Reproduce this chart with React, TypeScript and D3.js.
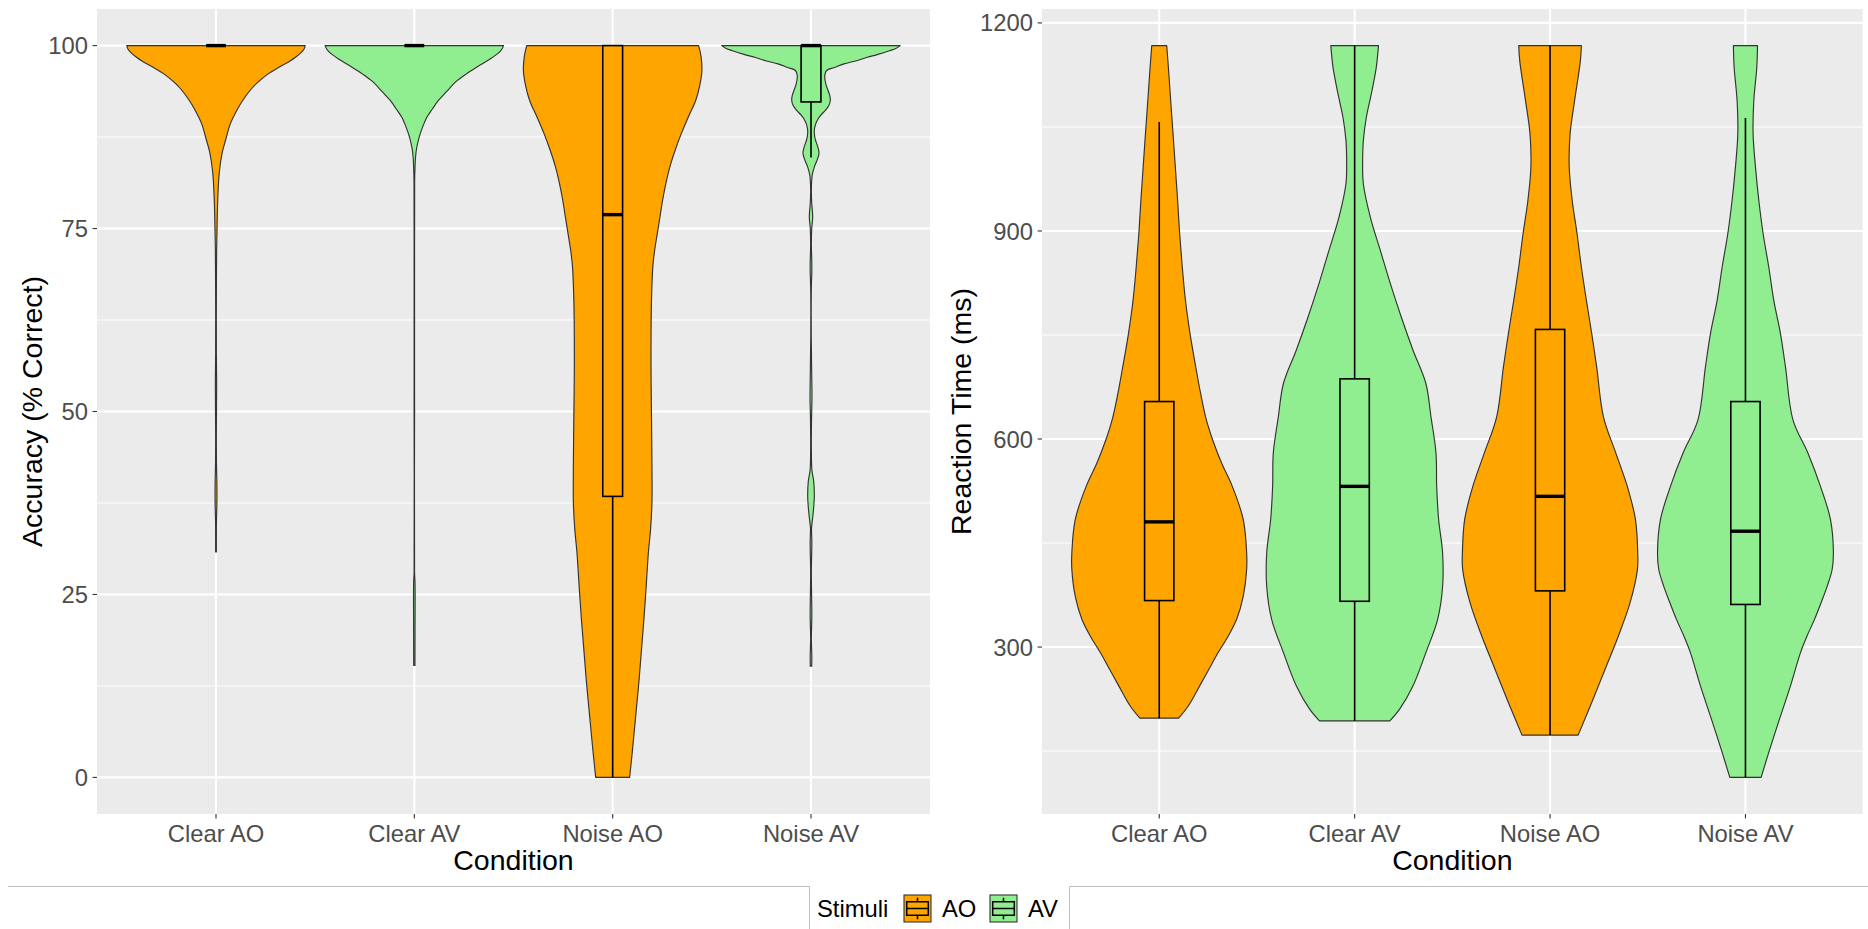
import * as d3 from 'd3';

const conditions = ['Clear AO', 'Clear AV', 'Noise AO', 'Noise AV'];
const stimuli = ['AO', 'AV', 'AO', 'AV'];
const stimulusLevels = ['AO', 'AV'];
const stimulusFills = ['#FFA500', '#90EE90'];

// violin outlines: [value, half width relative to the widest point]
const accClearAO = [
  [100, 1.0], [99.5, 0.985], [99.0, 0.95], [98.4, 0.89], [97.9, 0.83], [97.0, 0.7], [96.1, 0.58],
  [95.0, 0.47], [94.0, 0.39], [92.7, 0.31], [91.3, 0.24], [89.3, 0.16], [87.2, 0.11], [85.4, 0.07],
  [82.7, 0.037], [79.1, 0.02], [74.6, 0.011], [72, 0.007], [65, 0.004], [58, 0.004], [54, 0.007],
  [51, 0.006], [47, 0.004], [43, 0.005], [40, 0.01], [37.5, 0.01], [35, 0.005], [32, 0.004], [30.8, 0.004],
];
const accClearAV = [
  [100, 1.0], [99.5, 0.98], [99.0, 0.944], [98.1, 0.84], [97.2, 0.72], [96.1, 0.58], [95.0, 0.46],
  [93.7, 0.36], [92.5, 0.27], [91.3, 0.2], [90.2, 0.14], [89.1, 0.1], [88.0, 0.067], [86.8, 0.04],
  [85.7, 0.022], [84.5, 0.012], [83.4, 0.008], [81.6, 0.004], [70, 0.003], [50, 0.003], [28, 0.003],
  [26.5, 0.008], [20, 0.008], [15.3, 0.007],
];
const accNoiseAO = [
  [100, 0.963], [98.5, 0.99], [96.6, 1.0], [94.5, 0.975], [92.5, 0.93], [90.3, 0.85], [88.0, 0.77],
  [85.7, 0.7], [83.4, 0.64], [81.1, 0.595], [78.9, 0.56], [76.6, 0.53], [74.3, 0.5], [72, 0.47],
  [69.8, 0.45], [65.2, 0.435], [60.7, 0.43], [55, 0.43], [49.3, 0.435], [43, 0.44], [37.5, 0.44],
  [34, 0.425], [30.7, 0.4], [26, 0.375], [21.6, 0.35], [17, 0.32], [12.5, 0.29], [8, 0.255],
  [3.5, 0.22], [0, 0.19],
];
const accNoiseAV = [
  [100, 1.0], [99.6, 0.95], [99.3, 0.88], [98.8, 0.75], [98.4, 0.63], [97.9, 0.5], [97.5, 0.37],
  [97.0, 0.26], [96.6, 0.175], [96.0, 0.155], [95.3, 0.157], [94.6, 0.17], [93.9, 0.19], [93.2, 0.21],
  [92.5, 0.216], [91.8, 0.2], [91.1, 0.157], [90.5, 0.11], [90.0, 0.08], [89.2, 0.05], [88.4, 0.037],
  [87.7, 0.04], [87.1, 0.05], [86.2, 0.075], [85.3, 0.09], [84.4, 0.07], [83.4, 0.037], [82.4, 0.015],
  [81.4, 0.007], [80, 0.004], [78.5, 0.008], [76.6, 0.019], [75, 0.008], [73, 0.004], [70.3, 0.009],
  [69, 0.009], [67, 0.004], [60, 0.003], [55, 0.008], [52, 0.011], [49, 0.006], [45, 0.004],
  [42, 0.01], [40.5, 0.03], [38.4, 0.037], [36.2, 0.025], [34, 0.006], [32.5, 0.009], [31.5, 0.009],
  [28, 0.004], [23, 0.009], [21.7, 0.009], [19, 0.004], [16.5, 0.009], [15.2, 0.008],
];

const rtClearAO = [
  [1167.3, 0.085], [1136, 0.104], [1088, 0.13], [1040, 0.157], [992, 0.183], [944, 0.209],
  [896, 0.232], [848, 0.262], [800, 0.298], [752, 0.35], [704, 0.415], [666, 0.47], [628, 0.535],
  [596, 0.615], [565, 0.71], [532, 0.83], [484, 0.955], [436, 0.994], [412, 0.994], [373, 0.955],
  [340, 0.88], [316, 0.785], [292, 0.67], [268, 0.565], [244, 0.46], [215, 0.33], [197.4, 0.22],
];
const rtClearAV = [
  [1167.3, 0.271], [1136, 0.246], [1098, 0.19], [1064, 0.133], [1030.6, 0.099], [1001.8, 0.091],
  [968, 0.099], [920, 0.178], [872, 0.292], [824, 0.406], [776, 0.53], [728, 0.664], [680, 0.81],
  [632, 0.868], [580, 0.925], [531, 0.933], [484, 0.955], [436, 1.0], [387, 1.0], [340, 0.944],
  [292, 0.81], [243, 0.66], [210, 0.51], [193.5, 0.4],
];
const rtNoiseAO = [
  [1167.3, 0.356], [1145.6, 0.345], [1088, 0.279], [1040, 0.228], [992, 0.218], [944, 0.252],
  [896, 0.307], [848, 0.356], [800, 0.413], [752, 0.474], [704, 0.53], [632, 0.607], [580, 0.747],
  [531, 0.88], [484, 0.971], [436, 0.997], [412, 0.994], [364, 0.91], [316, 0.777], [268, 0.626],
  [220, 0.474], [173, 0.319],
];
const rtNoiseAV = [
  [1167.3, 0.137], [1136, 0.129], [1088, 0.095], [1040, 0.087], [992, 0.114], [944, 0.152],
  [896, 0.201], [848, 0.265], [800, 0.322], [752, 0.398], [704, 0.455], [627.7, 0.54], [579.8, 0.71],
  [531.7, 0.853], [483.8, 0.967], [435.8, 1.0], [411.8, 0.986], [387.8, 0.93], [363.9, 0.86],
  [339.9, 0.785], [315.8, 0.7], [291.9, 0.626], [243.9, 0.512], [196, 0.387], [148, 0.265], [112, 0.178],
];

// box plot statistics per condition
const accLower = [100, 100, 0, 84.7];
const accQ1 = [100, 100, 38.4, 92.3];
const accMedian = [100, 100, 76.9, 100];
const accQ3 = [100, 100, 100, 100];
const accUpper = [100, 100, 100, 100];

const rtLower = [197.4, 193.5, 173, 112];
const rtQ1 = [367, 366, 381, 361.4];
const rtMedian = [480.5, 531.7, 517.3, 467];
const rtQ3 = [654, 686.7, 758, 654];
const rtUpper = [1057, 1167.3, 1167.3, 1063];

const accTicks = [0, 25, 50, 75, 100];
const accMinor = [12.5, 37.5, 62.5, 87.5];
const rtTicks = [300, 600, 900, 1200];
const rtMinor = [150, 450, 750, 1050];

const FONT = "'Liberation Sans', Arial, Helvetica, sans-serif";
const fillFor = (s: string) => stimulusFills[stimulusLevels.indexOf(s)];

type PanelProps = {
  x0: number; x1: number; y0: number; y1: number;
  violins: number[][][];
  lower: number[]; q1: number[]; median: number[]; q3: number[]; upper: number[];
  ticks: number[]; minor: number[]; boxWidth: number; yTitle: string; titleX: number;
};

function Panel(p: PanelProps) {
  const all = p.violins.flat().map(d => d[0]);
  const lo = d3.min(all) as number;
  const hi = d3.max(all) as number;
  const pad = (hi - lo) * 0.05;
  const y = d3.scaleLinear().domain([lo - pad, hi + pad]).range([p.y1, p.y0]);
  const x = d3.scalePoint<string>().domain(conditions).range([p.x0, p.x1]).padding(0.6);
  const unit = x.step();
  const halfMax = 0.45 * unit;
  const boxHalf = (p.boxWidth * unit) / 2;

  return (
    <g>
      <rect x={p.x0} y={p.y0} width={p.x1 - p.x0} height={p.y1 - p.y0} fill="#EBEBEB" />
      {p.minor.map(t => (
        <line key={'m' + t} x1={p.x0} x2={p.x1} y1={y(t)} y2={y(t)} stroke="#fff" strokeWidth={1.05} />
      ))}
      {p.ticks.map(t => (
        <line key={'t' + t} x1={p.x0} x2={p.x1} y1={y(t)} y2={y(t)} stroke="#fff" strokeWidth={2.1} />
      ))}
      {conditions.map(c => (
        <line key={'v' + c} x1={x(c)} x2={x(c)} y1={p.y0} y2={p.y1} stroke="#fff" strokeWidth={2.1} />
      ))}

      {p.violins.map((v, i) => {
        const cx = x(conditions[i]) as number;
        const area = d3.area<number[]>()
          .y(d => y(d[0]))
          .x0(d => cx - d[1] * halfMax)
          .x1(d => cx + d[1] * halfMax)
          .curve(d3.curveCatmullRom);
        return (
          <path key={'vio' + i} d={area(v) || ''} fill={fillFor(stimuli[i])}
            stroke="#333333" strokeWidth={1.15} strokeLinejoin="round" />
        );
      })}

      {conditions.map((c, i) => {
        const cx = x(c) as number;
        const f = fillFor(stimuli[i]);
        return (
          <g key={'box' + c}>
            <line x1={cx} x2={cx} y1={y(p.q3[i])} y2={y(p.upper[i])} stroke="#000" strokeWidth={1.6} />
            <line x1={cx} x2={cx} y1={y(p.q1[i])} y2={y(p.lower[i])} stroke="#000" strokeWidth={1.6} />
            <rect x={cx - boxHalf} y={y(p.q3[i])} width={boxHalf * 2}
              height={y(p.q1[i]) - y(p.q3[i])} fill={f} stroke="#000" strokeWidth={1.6} />
            <line x1={cx - boxHalf} x2={cx + boxHalf} y1={y(p.median[i])} y2={y(p.median[i])}
              stroke="#000" strokeWidth={3.4} />
          </g>
        );
      })}

      {p.ticks.map(t => (
        <g key={'yl' + t}>
          <line x1={p.x0 - 4.4} x2={p.x0} y1={y(t)} y2={y(t)} stroke="#333333" strokeWidth={1.1} />
          <text x={p.x0 - 9} y={y(t)} dy="0.36em" textAnchor="end" fill="#4D4D4D"
            fontSize={23.8} fontFamily={FONT}>{t}</text>
        </g>
      ))}
      {conditions.map(c => (
        <g key={'xl' + c}>
          <line x1={x(c)} x2={x(c)} y1={p.y1} y2={p.y1 + 4.4} stroke="#333333" strokeWidth={1.1} />
          <text x={x(c)} y={841.5} textAnchor="middle" fill="#4D4D4D" fontSize={23.8}
            fontFamily={FONT}>{c}</text>
        </g>
      ))}
      <text x={(p.x0 + p.x1) / 2} y={870} textAnchor="middle" fill="#000" fontSize={28.5}
        fontFamily={FONT}>Condition</text>
      <text transform={`translate(${p.titleX},${(p.y0 + p.y1) / 2}) rotate(-90)`} textAnchor="middle"
        fill="#000" fontSize={28.5} fontFamily={FONT}>{p.yTitle}</text>
    </g>
  );
}

function LegendKey({ x, y, fill }: { x: number; y: number; fill: string }) {
  const s = 27;
  const cx = x + s / 2;
  return (
    <g>
      <rect x={x} y={y} width={s} height={s} fill={fill} stroke="#333333" strokeWidth={1.1} />
      <line x1={cx} x2={cx} y1={y + s * 0.1} y2={y + s * 0.25} stroke="#000" strokeWidth={1.5} />
      <line x1={cx} x2={cx} y1={y + s * 0.75} y2={y + s * 0.9} stroke="#000" strokeWidth={1.5} />
      <rect x={x + s * 0.1} y={y + s * 0.25} width={s * 0.8} height={s * 0.5} fill={fill}
        stroke="#000" strokeWidth={1.5} />
      <line x1={x + s * 0.1} x2={x + s * 0.9} y1={y + s / 2} y2={y + s / 2} stroke="#000" strokeWidth={1.5} />
    </g>
  );
}

export default function App() {
  return (
    <svg width={1868} height={929} style={{ position: 'absolute', left: 0, top: 0, background: '#fff' }}>
      <rect width={1868} height={929} fill="#fff" />
      <Panel x0={97} x1={930} y0={9} y1={814}
        violins={[accClearAO, accClearAV, accNoiseAO, accNoiseAV]}
        lower={accLower} q1={accQ1} median={accMedian} q3={accQ3} upper={accUpper}
        ticks={accTicks} minor={accMinor} boxWidth={0.1}
        yTitle="Accuracy (% Correct)" titleX={41.7} />
      <Panel x0={1042} x1={1862.7} y0={9} y1={814}
        violins={[rtClearAO, rtClearAV, rtNoiseAO, rtNoiseAV]}
        lower={rtLower} q1={rtQ1} median={rtMedian} q3={rtQ3} upper={rtUpper}
        ticks={rtTicks} minor={rtMinor} boxWidth={0.15}
        yTitle="Reaction Time (ms)" titleX={970.7} />

      <path d="M8,886.5H809.5V929M1069.5,929V886.5H1868" fill="none" stroke="#BEBEBE" strokeWidth={1} />
      <text x={817} y={917} fill="#000" fontSize={23.8} fontFamily={FONT}>Stimuli</text>
      {stimulusLevels.map((s, i) => (
        <g key={s}>
          <LegendKey x={904 + i * 86} y={895} fill={stimulusFills[i]} />
          <text x={942 + i * 86} y={917} fill="#000" fontSize={23.8} fontFamily={FONT}>{s}</text>
        </g>
      ))}
    </svg>
  );
}
